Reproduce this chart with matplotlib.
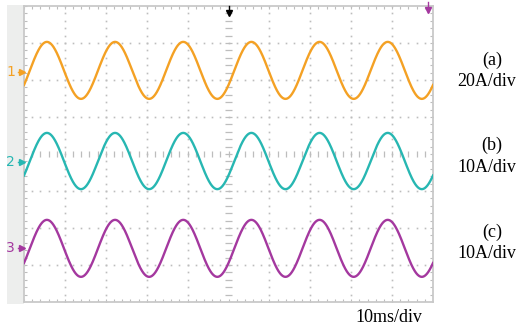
import numpy as np
import matplotlib
matplotlib.use("Agg")
import matplotlib.pyplot as plt
from matplotlib.patches import Rectangle

# scope settings read from the capture
time_per_div = 10.0       # ms/div
n_xdiv, n_ydiv = 10, 8
channels = ["1", "2", "3"]
labels = ["(a)", "(b)", "(c)"]
scales = ["20A/div", "10A/div", "10A/div"]
amps_per_div = [20.0, 10.0, 10.0]
colors = ["#F4A124", "#27B7B2", "#A4389F"]

# measured waveform values (peak current, offset on screen, frequency, time of first peak)
peak_amps = [15.4, 7.6, 7.7]          # A
offsets_div = [2.26, -0.19, -2.55]    # div from screen centre
marker_div = [2.22, -0.22, -2.54]     # channel ground markers
freq_hz = [60.0, 60.0, 60.0]
t_peak_ms = [5.6, 5.6, 5.6]

W, H = 528, 331
fig = plt.figure(figsize=(W / 100, H / 100), dpi=100)
fig.patch.set_facecolor("white")

# grey strip on the left of the screen
fig.patches.append(Rectangle((7 / W, 1 - 304 / H), 17 / W, 299 / H,
                             transform=fig.transFigure, facecolor="#EDEEED",
                             edgecolor="none", zorder=-1))

ax = fig.add_axes([24 / W, 1 - 302 / H, 409 / W, 296 / H])
ax.set_zorder(1)
ax.patch.set_alpha(0)
xmax = n_xdiv * time_per_div
ax.set_xlim(0, xmax)
ax.set_ylim(-n_ydiv / 2, n_ydiv / 2)
ax.set_xticks([])
ax.set_yticks([])
for s in ax.spines.values():
    s.set_color("#C9C9C9")
    s.set_linewidth(1.3)

grid_c = "#BDBDBD"
xsub = time_per_div / 5
ysub = 0.2
xs_dots = np.arange(0, xmax + 0.01, xsub)
ys_dots = np.arange(-4, 4.01, ysub)

# dotted graticule
for k in range(1, n_xdiv):
    if k == n_xdiv // 2:
        continue
    ax.plot(np.full_like(ys_dots, k * time_per_div), ys_dots, ls="", marker="s",
            ms=1.2, mew=0, color=grid_c, zorder=1)
for k in range(-3, 4):
    if k == 0:
        continue
    ax.plot(xs_dots, np.full_like(xs_dots, k), ls="", marker="s",
            ms=1.2, mew=0, color=grid_c, zorder=1)

# centre axes with minor ticks
tx = 0.9   # ms, half length of horizontal tick
ty = 0.07  # div, half length of vertical tick
ax.hlines(ys_dots, xmax / 2 - tx, xmax / 2 + tx, color=grid_c, lw=0.9, zorder=1)
ax.vlines(xs_dots, -ty, ty, color=grid_c, lw=0.9, zorder=1)

# border ticks pointing inward
ax.hlines(ys_dots, 0, 0.8, color=grid_c, lw=0.8, zorder=1)
ax.hlines(ys_dots, xmax - 0.8, xmax, color=grid_c, lw=0.8, zorder=1)
ax.vlines(xs_dots, -4, -3.92, color=grid_c, lw=0.8, zorder=1)
ax.vlines(xs_dots, 3.92, 4, color=grid_c, lw=0.8, zorder=1)

# waveforms
t = np.linspace(0, xmax, 3000)
for i in range(3):
    amp_div = peak_amps[i] / amps_per_div[i]
    y = offsets_div[i] + amp_div * np.cos(2 * np.pi * freq_hz[i] * (t - t_peak_ms[i]) / 1000.0)
    ax.plot(t, y, color=colors[i], lw=1.7, zorder=3, solid_joinstyle="miter")

    # channel marker on the left
    ax.text(-2.2, marker_div[i], channels[i], color=colors[i], fontsize=10,
            ha="right", va="center", clip_on=False, zorder=6)
    ax.plot([-0.5], [marker_div[i]], marker=">", ms=4, color=colors[i],
            clip_on=False, zorder=6)
    ax.plot([-1.5, -0.5], [marker_div[i]] * 2, color=colors[i], lw=1.0,
            clip_on=False, zorder=6)

    # scale labels on the right
    yc = [60, 145, 232][i]
    fig.text(492 / W, 1 - yc / H, labels[i], family="Liberation Serif",
             fontsize=13, ha="center", va="center")
    fig.text(487 / W, 1 - (yc + 22) / H, scales[i], family="Liberation Serif",
             fontsize=13, ha="center", va="center")

# trigger position and level markers
ax.plot([xmax / 2, xmax / 2], [4.0, 3.85], color="black", lw=1.0, clip_on=False, zorder=5)
ax.plot([xmax / 2], [3.8], marker="v", ms=5, color="black", clip_on=False, zorder=5)
ax.plot([98.8, 98.8], [4.1, 3.85], color=colors[2], lw=1.0, clip_on=False, zorder=5)
ax.plot([98.8], [3.88], marker="v", ms=5, color=colors[2], clip_on=False, zorder=5)

fig.text(389 / W, 1 - 317 / H, "%dms/div" % time_per_div, family="Liberation Serif",
         fontsize=13, ha="center", va="center")

fig.savefig("out.png", dpi=100, facecolor="white")
